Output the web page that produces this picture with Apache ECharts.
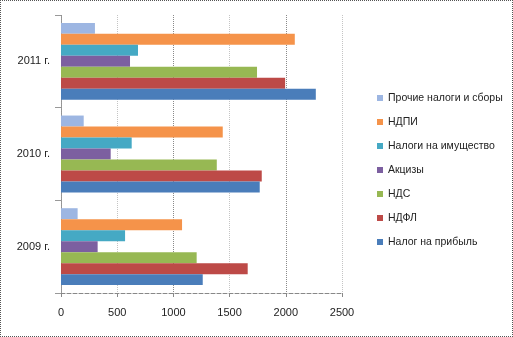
<!DOCTYPE html>
<html><head><meta charset="utf-8">
<script src="https://cdn.jsdelivr.net/npm/echarts@6/dist/echarts.min.js"></script>
<style>
html,body{margin:0;padding:0;background:#fff;}
#frame{position:absolute;left:0;top:0;width:513px;height:337px;box-sizing:border-box;border:1px dotted #555;}
#c{position:absolute;left:0;top:0;width:513px;height:337px;}
</style></head>
<body><div id="frame"></div><div id="c"></div>
<script>
const categories = ['2009 г.', '2010 г.', '2011 г.'];
const seriesNames = ['Налог на прибыль', 'НДФЛ', 'НДС', 'Акцизы', 'Налоги на имущество', 'НДПИ', 'Прочие налоги и сборы'];
const profitTax = [1261, 1768, 2267];
const ndfl = [1661, 1786, 1994];
const nds = [1207, 1386, 1744];
const excise = [326, 442, 614];
const propertyTax = [570, 629, 685];
const ndpi = [1077, 1439, 2080];
const otherTax = [148, 202, 302];
const xTicks = [0, 500, 1000, 1500, 2000, 2500];

const values = [profitTax, ndfl, nds, excise, propertyTax, ndpi, otherTax];
const colors = ['#4A7DBA', '#BD4A47', '#97B853', '#7C5FA0', '#45A9C4', '#F5934A', '#9DB6E2'];

const chart = echarts.init(document.getElementById('c'), null, {renderer: 'canvas'});
const font = 'Liberation Sans';
const order = [6, 5, 4, 3, 2, 1, 0]; // ECharts places the first series at the top of each band
chart.setOption({
  animation: false,
  textStyle: {fontFamily: font},
  grid: {left: 61, right: 171, top: 15, bottom: 44, containLabel: false},
  legend: {
    orient: 'vertical', left: 372, top: 87,
    data: seriesNames.slice().reverse(),
    icon: 'rect', itemWidth: 6, itemHeight: 6, itemGap: 12,
    textStyle: {fontFamily: font, fontSize: 10.5, color: '#222', lineHeight: 12}
  },
  xAxis: {
    type: 'value', min: xTicks[0], max: xTicks[xTicks.length - 1], interval: 500,
    axisLine: {show: true, lineStyle: {color: '#888', type: 'dashed', width: 1}},
    axisTick: {show: true, length: 4, lineStyle: {color: '#888'}},
    axisLabel: {fontFamily: font, fontSize: 11, color: '#222', margin: 14, formatter: v => String(v)},
    splitLine: {show: true, lineStyle: {color: ['#8a8a8a', '#c4c4c4'], type: 'dotted', width: 1}}
  },
  yAxis: {
    type: 'category', data: categories,
    axisLine: {show: true, lineStyle: {color: '#999', type: 'dotted'}},
    axisTick: {show: true, length: 6, lineStyle: {color: '#999'}},
    axisLabel: {fontFamily: font, fontSize: 11, color: '#222', margin: 11},
    splitLine: {show: false}
  },
  series: order.map(i => ({
    name: seriesNames[i], type: 'bar', data: values[i],
    barGap: '0%', barCategoryGap: '17%',
    itemStyle: {color: colors[i]}
  }))
});
</script></body></html>
